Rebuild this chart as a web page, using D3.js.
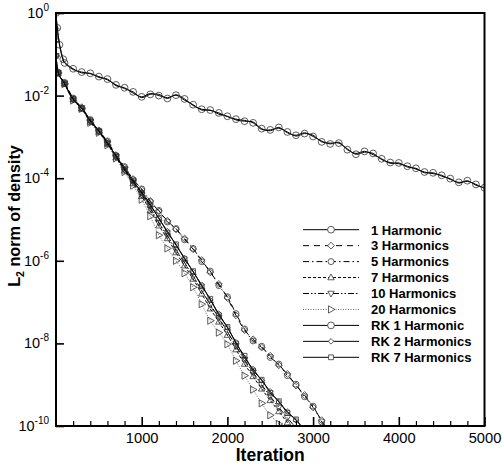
<!DOCTYPE html>
<html><head><meta charset="utf-8">
<script src="https://cdn.jsdelivr.net/npm/d3@7"></script>
<style>
body{margin:0;background:#fff;}
text{font-family:"Liberation Sans",Arial,sans-serif;}
</style></head>
<body><svg id="c" width="502" height="465"></svg>
<script>
// ---------- DATA (values stored as log10 of the L2 norm) ----------
const xTickLabels = ["1000","2000","3000","4000","5000"];
const yTickExponents = [0,-2,-4,-6,-8,-10];

const slowIter = [0,15,40,85,100,200,300,400,500,600,700,800,900,1000,1100,1200,1300,1400,1500,1600,1700,1800,1900,2000,2100,2200,2300,2400,2500,2600,2700,2800,2900,3000,3100,3200,3300,3400,3500,3600,3700,3800,3900,4000,4100,4200,4300,4400,4500,4600,4700,4800,4900,5000];
const fastIter = [0,25,100,200,300,400,500,600,700,800,900,1000,1100,1200,1300,1400,1500,1600,1700,1800,1900,2000,2100,2200,2300,2400,2500,2600,2700,2800,2900,3000,3100,3200];

const harm1 = [0,-0.39,-0.77,-1.16,-1.21,-1.37,-1.43,-1.47,-1.54,-1.62,-1.74,-1.83,-1.91,-2.05,-1.97,-1.97,-2.07,-1.98,-2.08,-2.24,-2.33,-2.36,-2.42,-2.51,-2.57,-2.60,-2.66,-2.82,-2.83,-2.79,-2.88,-2.98,-2.92,-2.96,-3.12,-3.15,-3.15,-3.29,-3.42,-3.37,-3.40,-3.55,-3.62,-3.65,-3.71,-3.78,-3.85,-3.89,-3.93,-4.03,-4.10,-4.08,-4.15,-4.25];
const rkHarm1 = [0,-0.36,-0.74,-1.12,-1.19,-1.35,-1.45,-1.46,-1.56,-1.60,-1.76,-1.81,-1.94,-2.03,-1.95,-2.00,-2.05,-1.99,-2.11,-2.22,-2.35,-2.35,-2.45,-2.50,-2.59,-2.62,-2.64,-2.80,-2.85,-2.77,-2.90,-2.96,-2.90,-2.99,-3.10,-3.17,-3.13,-3.31,-3.40,-3.35,-3.43,-3.53,-3.64,-3.63,-3.73,-3.76,-3.87,-3.87,-3.95,-4.01,-4.12,-4.06,-4.17,-4.23];
const harm3 = [-0.39,-1.45,-1.70,-2.08,-2.28,-2.60,-2.84,-3.12,-3.44,-3.74,-4.02,-4.28,-4.55,-4.80,-5.03,-5.24,-5.46,-5.72,-5.98,-6.28,-6.56,-6.90,-7.32,-7.68,-7.90,-8.10,-8.30,-8.53,-8.74,-9.02,-9.25,-9.55,-9.86,-10.2];
const harm5 = [-0.64,-1.43,-1.68,-2.06,-2.30,-2.58,-2.86,-3.10,-3.46,-3.72,-4.04,-4.26,-4.57,-4.78,-5.06,-5.22,-5.49,-5.70,-6.02,-6.25,-6.60,-6.87,-7.28,-7.65,-7.94,-8.07,-8.34,-8.50,-8.78,-8.99,-9.29,-9.52,-9.90,-10.2];
const harm7 = [-0.64,-1.46,-1.72,-2.10,-2.32,-2.64,-2.88,-3.17,-3.50,-3.82,-4.13,-4.44,-4.78,-5.15,-5.46,-5.80,-6.12,-6.44,-6.80,-7.16,-7.48,-7.80,-8.15,-8.50,-8.80,-9.10,-9.38,-9.65,-9.92,-10.2,-10.5];
const harm10 = [-1.04,-1.45,-1.70,-2.09,-2.30,-2.63,-2.87,-3.15,-3.48,-3.80,-4.10,-4.40,-4.73,-5.08,-5.40,-5.74,-6.05,-6.38,-6.72,-7.06,-7.38,-7.72,-8.06,-8.40,-8.70,-9.00,-9.28,-9.55,-9.80,-10.05,-10.3];
const harm20 = [-1.04,-1.46,-1.72,-2.12,-2.32,-2.66,-2.90,-3.20,-3.52,-3.85,-4.18,-4.52,-4.92,-5.38,-5.70,-6.00,-6.30,-6.64,-7.05,-7.45,-7.74,-8.02,-8.42,-8.78,-9.12,-9.45,-9.74,-9.95,-10.2];
const rkHarm2 = [-0.52,-1.44,-1.72,-2.10,-2.30,-2.62,-2.86,-3.14,-3.47,-3.79,-4.08,-4.33,-4.63,-4.98,-5.28,-5.62,-5.93,-6.27,-6.58,-6.95,-7.28,-7.62,-7.97,-8.35,-8.62,-8.90,-9.16,-9.42,-9.65,-9.86,-10.1,-10.35];
const rkHarm7 = [-1.04,-1.46,-1.71,-2.08,-2.31,-2.60,-2.85,-3.16,-3.45,-3.77,-4.06,-4.36,-4.66,-4.96,-5.32,-5.60,-5.96,-6.25,-6.62,-6.92,-7.32,-7.60,-8.00,-8.30,-8.66,-8.88,-9.20,-9.40,-9.68,-9.84,-10.12,-10.4];

const seriesNames = ["1 Harmonic","3 Harmonics","5 Harmonics","7 Harmonics","10 Harmonics","20 Harmonics","RK 1 Harmonic","RK 2 Harmonics","RK 7 Harmonics"];

// ---------- STYLE ----------
const styles = [
  {iter:slowIter, vals:harm1,   dash:null,               color:"#000", mark:"circle",  size:3.4, every:2, off:0},
  {iter:fastIter, vals:harm3,   dash:"6,5",              color:"#000", mark:"diamond", size:3.4, every:1, off:0},
  {iter:fastIter, vals:harm5,   dash:"6,3,1.5,3",        color:"#000", mark:"circle",  size:3.0, every:1, off:0},
  {iter:fastIter, vals:harm7,   dash:"3,2",              color:"#000", mark:"triUp",   size:3.2, every:1, off:0},
  {iter:fastIter, vals:harm10,  dash:"6,2,1.5,2,1.5,2",  color:"#000", mark:"triDown", size:3.2, every:1, off:0},
  {iter:fastIter, vals:harm20,  dash:"1,1.5",            color:"#666", mark:"triRight",size:3.6, every:1, off:0},
  {iter:slowIter, vals:rkHarm1, dash:null,               color:"#000", mark:"circle",  size:3.4, every:2, off:1},
  {iter:fastIter, vals:rkHarm2, dash:null,               color:"#000", mark:"diamond", size:2.8, every:1, off:0},
  {iter:fastIter, vals:rkHarm7, dash:null,               color:"#000", mark:"square",  size:2.4, every:1, off:0}
];

const L=56, R=484.5, T=13, B=426;
const svg = d3.select("#c");
const x = d3.scaleLinear().domain([0,5000]).range([L,R]);
const y = d3.scaleLog().domain([1e-10,1]).range([B,T]);

svg.append("clipPath").attr("id","clip").append("rect")
  .attr("x",L).attr("y",T).attr("width",R-L).attr("height",B-T);

function markPath(type, r){
  switch(type){
    case "circle": { const p=d3.path(); p.moveTo(r,0); p.arc(0,0,r,0,2*Math.PI); return p.toString(); }
    case "diamond": return `M0,${-r}L${r},0L0,${r}L${-r},0Z`;
    case "square": return `M${-r},${-r}H${r}V${r}H${-r}Z`;
    case "triUp": return `M0,${-r*1.1}L${r},${r*0.7}L${-r},${r*0.7}Z`;
    case "triDown": return `M0,${r*1.1}L${r},${-r*0.7}L${-r},${-r*0.7}Z`;
    case "triRight": return `M${r*1.1},0L${-r*0.7},${-r}L${-r*0.7},${r}Z`;
  }
}

const plot = svg.append("g").attr("clip-path","url(#clip)");
const line = d3.line().curve(d3.curveCatmullRom.alpha(0.5))
  .x(d=>x(d[0])).y(d=>y(Math.pow(10,d[1])));

styles.forEach((s,i)=>{
  const pts = s.vals.map((v,k)=>[s.iter[k],v]);
  const g = plot.append("g");
  g.append("path").attr("d",line(pts)).attr("fill","none")
    .attr("stroke",s.color).attr("stroke-width",1)
    .attr("stroke-dasharray",s.dash);
  pts.forEach((p,k)=>{
    if ((k+s.off)%s.every!==0) return;
    g.append("path").attr("d",markPath(s.mark,s.size))
      .attr("transform",`translate(${x(p[0])},${y(Math.pow(10,p[1]))})`)
      .attr("fill","none").attr("stroke","#333").attr("stroke-width",0.8);
  });
});

// axes
const xMajor = xTickLabels.map(Number);
const xMinor = d3.range(200,5000,200).filter(v=>v%1000!==0);
const gx = svg.append("g").attr("transform",`translate(0,${B})`)
  .call(d3.axisBottom(x).tickValues(xMajor).tickSize(-9).tickPadding(6.5).tickFormat((d,i)=>xTickLabels[i]));
gx.select(".domain").remove();
gx.selectAll("line").attr("stroke","#000").attr("stroke-width",1.6);
gx.selectAll("text").attr("font-size","14.7px").attr("fill","#000").attr("font-family","Liberation Sans, Arial, sans-serif");
const gxm = svg.append("g").attr("transform",`translate(0,${B})`)
  .call(d3.axisBottom(x).tickValues(xMinor).tickSize(-5).tickFormat(""));
gxm.select(".domain").remove();
gxm.selectAll("line").attr("stroke","#000").attr("stroke-width",1.2);

const yVals = yTickExponents.map(e=>Math.pow(10,e));
const gy = svg.append("g").attr("transform",`translate(${L},0)`)
  .call(d3.axisLeft(y).tickValues(yVals).tickSize(-8).tickFormat(""));
gy.select(".domain").remove();
gy.selectAll("line").attr("stroke","#000").attr("stroke-width",1.6);
yTickExponents.forEach(e=>{
  const t = svg.append("text").attr("x",49).attr("y",y(Math.pow(10,e))+5)
    .attr("text-anchor","end").attr("font-size","14.5px").attr("fill","#000");
  t.append("tspan").text("10");
  t.append("tspan").attr("dy",-7).attr("font-size","10px").text(String(e));
});

// frame
svg.append("rect").attr("x",L).attr("y",T).attr("width",R-L).attr("height",B-T)
  .attr("fill","none").attr("stroke","#000").attr("stroke-width",2);

// titles
svg.append("text").attr("x",(L+R)/2).attr("y",461).attr("text-anchor","middle")
  .attr("font-size","17.5px").attr("font-weight","bold").text("Iteration");
const yt = svg.append("text").attr("transform",`translate(19.5,216) rotate(-90)`)
  .attr("text-anchor","middle").attr("font-size","16.2px").attr("font-weight","bold");
yt.append("tspan").text("L");
yt.append("tspan").attr("font-size","10.5px").attr("dy",4).text("2");
yt.append("tspan").attr("dy",-4).text(" norm of density");

// legend
const lg = svg.append("g");
seriesNames.forEach((name,i)=>{
  const s = styles[i];
  const yy = 229.7 + i*15.95;
  lg.append("line").attr("x1",303).attr("x2",359).attr("y1",yy).attr("y2",yy)
    .attr("stroke",s.color).attr("stroke-width",1).attr("stroke-dasharray",s.dash);
  lg.append("path").attr("d",markPath(s.mark,s.size)).attr("transform",`translate(331,${yy})`)
    .attr("fill","#fff").attr("stroke","#333").attr("stroke-width",0.8);
  lg.append("text").attr("x",371).attr("y",yy+4.8).attr("font-size","13px")
    .attr("font-weight","bold").text(name);
});
</script></body></html>
